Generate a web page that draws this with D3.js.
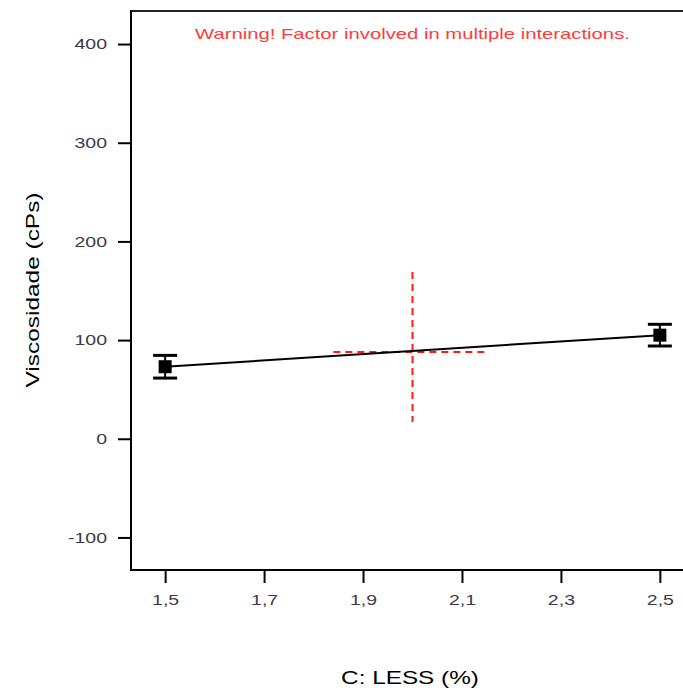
<!DOCTYPE html>
<html>
<head>
<meta charset="utf-8">
<script src="https://cdn.jsdelivr.net/npm/d3@7"></script>
<style>
  body { margin: 0; background: #fff; }
  text { font-family: "Liberation Sans", Arial, sans-serif; }
</style>
</head>
<body>
<div id="chart"></div>
<script>
// data
var levels = [1.5, 2.5];
var means = [73, 105];
var lows = [61.5, 94];
var highs = [84.5, 116];
var xTicks = [1.5, 1.7, 1.9, 2.1, 2.3, 2.5];
var yTicks = [-100, 0, 100, 200, 300, 400];
var crossCenter = [2.0, 88];
var crossXRange = [1.84, 2.145];
var crossYRange = [17, 169];

var svgWidth = 683, svgHeight = 693;
var plotLeft = 131, plotTop = 11, plotRight = 694, plotBottom = 570;

var svg = d3.select("#chart").append("svg")
  .attr("width", svgWidth)
  .attr("height", svgHeight);

var xScale = d3.scaleLinear().domain([1.431, 2.569]).range([plotLeft, plotRight]);
var yScale = d3.scaleLinear().domain([-133, 433.5]).range([plotBottom, plotTop]);

// stretch text sideways like the original raster
function stretch(sel, k) {
  sel.each(function() {
    var w = this.getComputedTextLength();
    d3.select(this).attr("textLength", w * k).attr("lengthAdjust", "spacingAndGlyphs");
  });
}

// axes
var xAxis = d3.axisBottom(xScale)
  .tickValues(xTicks)
  .tickSize(13)
  .tickPadding(11)
  .tickFormat(d => d3.format(".1f")(d).replace(".", ","));
var yAxis = d3.axisLeft(yScale)
  .tickValues(yTicks)
  .tickSize(13)
  .tickPadding(11)
  .tickFormat(d => String(d));

var gx = svg.append("g")
  .attr("transform", "translate(0," + plotBottom + ")")
  .call(xAxis);
var gy = svg.append("g")
  .attr("transform", "translate(" + plotLeft + ",0)")
  .call(yAxis);

[gx, gy].forEach(function(g) {
  g.select(".domain").remove();
  g.selectAll(".tick line").attr("stroke", "#000").attr("stroke-width", 2);
  g.selectAll(".tick text")
    .attr("fill", "#3a3a4a")
    .style("font-size", "15px");
});
stretch(gx.selectAll(".tick text"), 1.3);
stretch(gy.selectAll(".tick text"), 1.3);

// frame
svg.append("line").attr("x1", plotLeft).attr("x2", plotLeft).attr("y1", plotTop - 1).attr("y2", plotBottom + 1)
  .attr("stroke", "#000").attr("stroke-width", 2);
svg.append("line").attr("x1", plotLeft).attr("x2", plotRight).attr("y1", plotBottom).attr("y2", plotBottom)
  .attr("stroke", "#000").attr("stroke-width", 2);
svg.append("line").attr("x1", plotLeft).attr("x2", plotRight).attr("y1", plotTop).attr("y2", plotTop)
  .attr("stroke", "#222").attr("stroke-width", 2);

// warning
var warn = svg.append("text")
  .attr("x", xScale(2.0))
  .attr("y", 39)
  .attr("text-anchor", "middle")
  .attr("fill", "#ff3b3b")
  .style("font-size", "15px")
  .text("Warning! Factor involved in multiple interactions.");
stretch(warn, 1.35);

// crosshair
svg.append("line")
  .attr("x1", xScale(crossCenter[0])).attr("x2", xScale(crossCenter[0]))
  .attr("y1", yScale(crossYRange[1])).attr("y2", yScale(crossYRange[0]))
  .attr("stroke", "#ff1a1a").attr("stroke-width", 2)
  .attr("stroke-dasharray", "7,5");
svg.append("line")
  .attr("x1", xScale(crossXRange[0])).attr("x2", xScale(crossXRange[1]))
  .attr("y1", yScale(crossCenter[1])).attr("y2", yScale(crossCenter[1]))
  .attr("stroke", "#ff1a1a").attr("stroke-width", 2)
  .attr("stroke-dasharray", "7,5");

// effect line
var line = d3.line()
  .x((d, i) => xScale(levels[i]))
  .y(d => yScale(d));
svg.append("path")
  .datum(means)
  .attr("d", line)
  .attr("fill", "none")
  .attr("stroke", "#000")
  .attr("stroke-width", 2);

// error bars + points
var pts = svg.selectAll(".pt")
  .data(levels)
  .enter().append("g");
pts.append("line")
  .attr("x1", d => xScale(d)).attr("x2", d => xScale(d))
  .attr("y1", (d, i) => yScale(highs[i])).attr("y2", (d, i) => yScale(lows[i]))
  .attr("stroke", "#000").attr("stroke-width", 2);
pts.append("line")
  .attr("x1", d => xScale(d) - 12).attr("x2", d => xScale(d) + 12)
  .attr("y1", (d, i) => yScale(highs[i])).attr("y2", (d, i) => yScale(highs[i]))
  .attr("stroke", "#000").attr("stroke-width", 3);
pts.append("line")
  .attr("x1", d => xScale(d) - 12).attr("x2", d => xScale(d) + 12)
  .attr("y1", (d, i) => yScale(lows[i])).attr("y2", (d, i) => yScale(lows[i]))
  .attr("stroke", "#000").attr("stroke-width", 3);
pts.append("rect")
  .attr("x", d => xScale(d) - 6.5)
  .attr("y", (d, i) => yScale(means[i]) - 6.5)
  .attr("width", 13).attr("height", 13)
  .attr("fill", "#000");

// axis titles
var xt = svg.append("text")
  .attr("x", 410)
  .attr("y", 684)
  .attr("text-anchor", "middle")
  .attr("fill", "#000")
  .style("font-size", "18px")
  .text("C: LESS (%)");
stretch(xt, 1.35);

svg.append("text")
  .attr("transform", "translate(39,290) rotate(-90)")
  .attr("text-anchor", "middle")
  .attr("fill", "#000")
  .style("font-size", "19px")
  .attr("textLength", 195)
  .attr("lengthAdjust", "spacingAndGlyphs")
  .text("Viscosidade (cPs)");
</script>
</body>
</html>
